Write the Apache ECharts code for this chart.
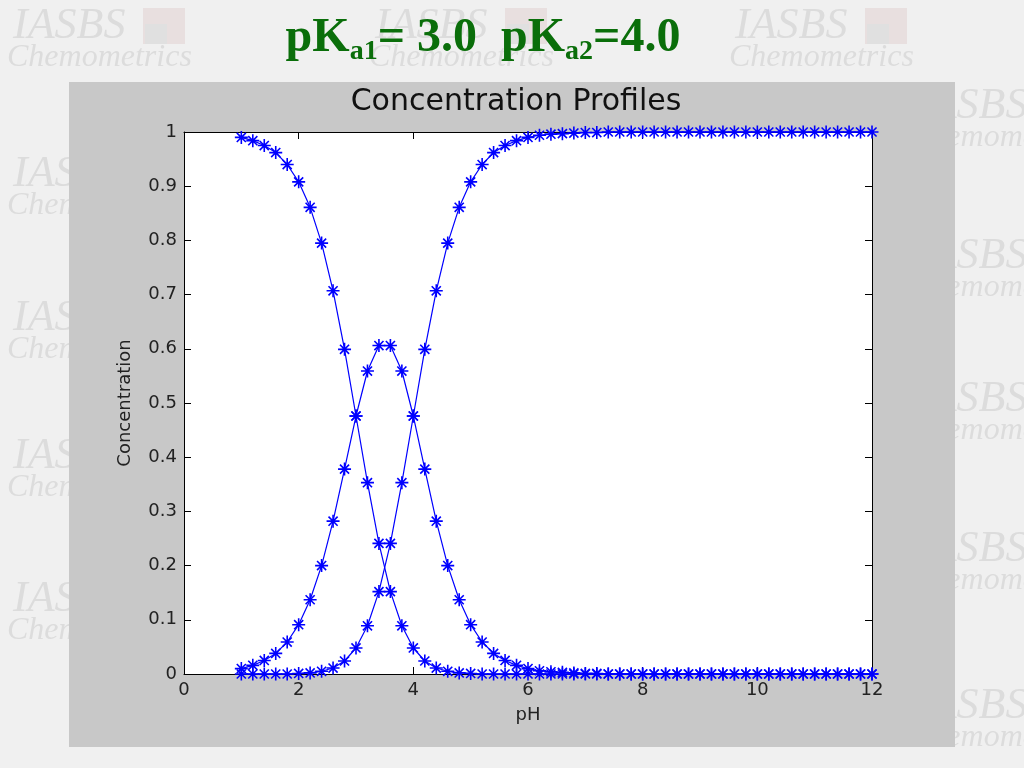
<!DOCTYPE html>
<html><head><meta charset="utf-8">
<script src="https://cdn.jsdelivr.net/npm/echarts@6/dist/echarts.min.js"></script>
<style>html,body{margin:0;padding:0;background:#f0f0f0;}#c{width:1024px;height:768px;}</style>
</head><body><div id="c"></div><script>
// ---- data ----
const pH = [1.0,1.2,1.4,1.6,1.8,2.0,2.2,2.4,2.6,2.8,3.0,3.2,3.4,3.6,3.8,4.0,4.2,4.4,4.6,4.8,5.0,5.2,5.4,5.6,5.8,6.0,6.2,6.4,6.6,6.8,7.0,7.2,7.4,7.6,7.8,8.0,8.2,8.4,8.6,8.8,9.0,9.2,9.4,9.6,9.8,10.0,10.2,10.4,10.6,10.8,11.0,11.2,11.4,11.6,11.8,12.0];
const fracH2A = [0.990,0.984,0.975,0.962,0.940,0.908,0.861,0.795,0.707,0.599,0.476,0.353,0.241,0.152,0.089,0.048,0.024,0.011,0.005,0.002,0.001,
  0,0,0,0,0, 0,0,0,0,0, 0,0,0,0,0, 0,0,0,0,0, 0,0,0,0,0, 0,0,0,0,0, 0,0,0,0,0];
const fracHA = [0.010,0.016,0.025,0.038,0.059,0.091,0.137,0.200,0.282,0.378,0.476,0.559,0.606,0.606,0.559,0.476,0.378,0.282,0.200,0.137,0.091,0.059,0.038,0.025,0.016,0.010,0.006,0.004,0.003,0.002,0.001,0.001,
  0,0,0,0,0,0, 0,0,0,0,0,0, 0,0,0,0,0,0, 0,0,0,0,0,0];
const fracA = [0,0,0,0,0,0.001,0.002,0.005,0.011,0.024,0.048,0.089,0.152,0.241,0.353,0.476,0.599,0.707,0.795,0.861,0.908,0.940,0.962,0.975,0.984,0.990,0.994,0.996,0.997,0.998,0.999,0.999,
  1,1,1,1,1,1, 1,1,1,1,1,1, 1,1,1,1,1,1, 1,1,1,1,1,1];
// slide heading pieces: [text, isSubscript]
const slideTitle = [['pK',false],['a1',true],['= 3.0  pK',false],['a2',true],['=4.0',false]];
const plotTitle = 'Concentration Profiles';
const xName = 'pH';
const yName = 'Concentration';

// ---- layout / decoration ----
const wmBlocks = [[13,4],[375,4],[735,4],[13,152],[13,296],[13,434],[13,577],[915,84],[915,234],[915,377],[915,527],[915,684],[185,684],[545,684]];
const graphics = [];
wmBlocks.forEach(([x,y]) => {
  graphics.push({type:'rect', z:-30, shape:{x:x+130,y:y+4,width:42,height:36}, style:{fill:'#e8dfdf'}});
  graphics.push({type:'rect', z:-29, shape:{x:x+132,y:y+20,width:22,height:20}, style:{fill:'#e0e0e0'}});
  graphics.push({type:'text', z:-28, x:x, y:y, style:{text:'IASBS', fontStyle:'italic', fontSize:44, fontFamily:'Liberation Serif', fill:'#dcdcdc', textVerticalAlign:'top'}});
  graphics.push({type:'text', z:-28, x:x-6, y:y+38, style:{text:'Chemometrics', fontStyle:'italic', fontSize:32, fontFamily:'Liberation Serif', fill:'#dcdcdc', textVerticalAlign:'top'}});
});
graphics.push({type:'rect', z:-10, shape:{x:69,y:82,width:886,height:665}, style:{fill:'#c8c8c8'}});
graphics.push({type:'text', z:5, x:516, y:102, style:{text:plotTitle, fontSize:30, fontFamily:'DejaVu Sans', fill:'#111', textAlign:'center', textVerticalAlign:'middle'}});

// heading laid out piece by piece (subscripts lowered)
const green = '#0a6e0a';
const mctx = document.createElement('canvas').getContext('2d');
const fMain = 'bold 48px "Liberation Serif"', fSub = 'bold 28px "Liberation Serif"';
const widths = slideTitle.map(([t,sub]) => { mctx.font = sub ? fSub : fMain; return mctx.measureText(t).width; });
const total = widths.reduce((a,b)=>a+b,0);
let cx = 483 - total/2;
slideTitle.forEach(([t,sub],i) => {
  graphics.push({type:'text', z:5, x:cx, y: sub ? 52 : 39, style:{text:t, fontSize: sub?28:48, fontWeight:'bold', fontFamily:'Liberation Serif', fill:green, textAlign:'left', textVerticalAlign:'middle'}});
  cx += widths[i];
});

const tickFont = {color:'#222', fontFamily:'DejaVu Sans', fontSize:18};
const blk = {color:'#000', width:1};
function mkX(pos, labels){
  return {type:'value', min:0, max:12, interval:2, position:pos,
    axisLine:{show:true, onZero:false, lineStyle:blk},
    axisTick:{show:true, inside:true, length:7, lineStyle:blk},
    axisLabel:Object.assign({show:labels, margin:7}, tickFont),
    splitLine:{show:false}};
}
function mkY(pos, labels){
  return {type:'value', min:0, max:1, interval:0.1, position:pos,
    axisLine:{show:true, onZero:false, lineStyle:blk},
    axisTick:{show:true, inside:true, length:7, lineStyle:blk},
    axisLabel:Object.assign({show:labels, margin:7}, tickFont),
    splitLine:{show:false}};
}
const x0 = mkX('bottom', true);
Object.assign(x0, {name:xName, nameLocation:'middle', nameGap:32, nameTextStyle:{color:'#222', fontFamily:'DejaVu Sans', fontSize:18}});
const y0 = mkY('left', true);
Object.assign(y0, {name:yName, nameLocation:'middle', nameGap:50, nameTextStyle:{color:'#222', fontFamily:'DejaVu Sans', fontSize:18}});

const star = 'path://M10 0L10 20M0 10L20 10M3 3L17 17M3 17L17 3';
function mkSeries(vals){
  return {type:'line', xAxisIndex:0, yAxisIndex:0, data:pH.map((x,i)=>[x, vals[i]]),
    symbol:star, symbolSize:13, showSymbol:true, clip:false,
    lineStyle:{color:'#0000ff', width:1.2},
    itemStyle:{color:'rgba(0,0,255,0)', borderColor:'#0000ff', borderWidth:1.6},
    emphasis:{disabled:true}, z:3};
}

const chart = echarts.init(document.getElementById('c'), null, {renderer:'canvas'});
chart.setOption({
  animation:false,
  backgroundColor:'#f0f0f0',
  graphic:{elements:graphics},
  grid:{left:184, top:132, width:688, height:542, show:true, backgroundColor:'#ffffff', borderWidth:0},
  xAxis:[x0, mkX('top', false)],
  yAxis:[y0, mkY('right', false)],
  series:[mkSeries(fracH2A), mkSeries(fracHA), mkSeries(fracA)]
});
</script></body></html>
